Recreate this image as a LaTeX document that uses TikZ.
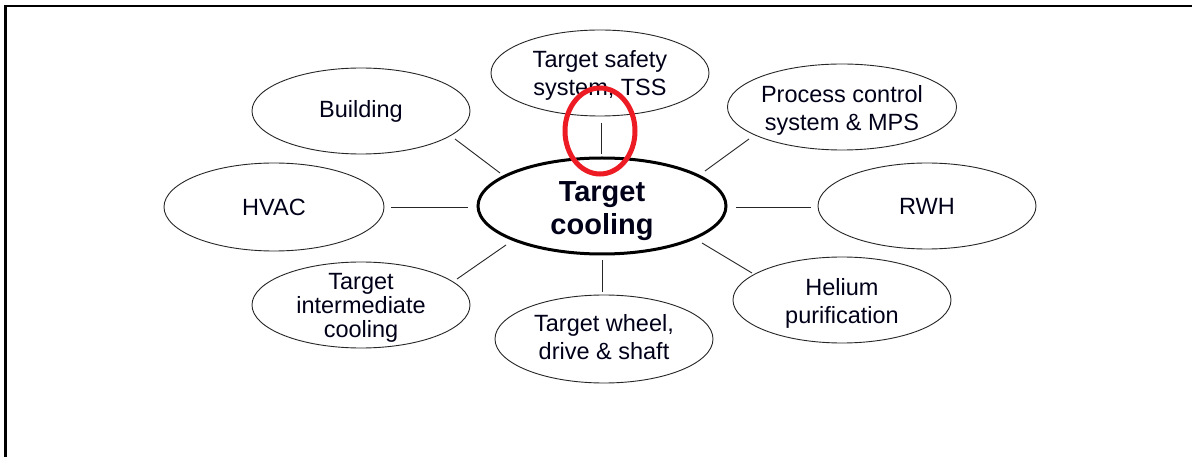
\documentclass[tikz,border=0pt]{standalone}
\usepackage{fontspec}
\setmainfont{Liberation Sans}
\usetikzlibrary{shapes.geometric}
\newcommand\dnlines[2]{\raisebox{0pt}[\dimexpr\height+#1\relax][\dimexpr\depth-#1\relax]{\begin{tabular}{@{}c@{}}#2\end{tabular}}}
\newcommand\tightlines[1]{\raisebox{0pt}[\dimexpr\height-2pt\relax][\dimexpr\depth-10pt\relax]{\begin{tabular}{@{}c@{}}#1\end{tabular}}}
\begin{document}
\begin{tikzpicture}[x=1pt,y=-1pt,
  bubble/.style={draw=black!85,line width=0.9pt,ellipse,minimum width=218pt,minimum height=86pt,inner sep=0pt,font=\fontsize{23.5}{27.5}\selectfont,text=black!90!blue},
  hub/.style={draw=black,line width=3pt,ellipse,minimum width=248pt,minimum height=96pt,inner sep=0pt,font=\fontsize{29}{33}\selectfont\bfseries,text=black!90!blue},
  link/.style={draw=black!85,line width=0.9pt}]
\useasboundingbox (0,0) rectangle (1192,457);
\fill[white] (0,0) rectangle (1192,457);
% frame
\draw[line width=2.5pt] (5.5,457) -- (5.5,5.5);
\draw[line width=1.2pt] (5,6) -- (1186,6);
\fill (1185,5.4) rectangle (1192,7.2);
% nodes
\node[hub] (tc) at (602,206) {\dnlines{5pt}{Target\\cooling}};
\node[bubble] (tss) at (600,73) {\dnlines{3pt}{Target safety\\system, TSS}};
\node[bubble] (bld) at (361,111) {\dnlines{1pt}{Building}};
\node[bubble] (pcs) at (842,107) {\dnlines{4pt}{Process control\\system \& MPS}};
\node[bubble,minimum width=220pt,minimum height=88pt] (hvac) at (274,207) {HVAC};
\node[bubble] (rwh) at (927,206) {RWH};
\node[bubble,font=\fontsize{23.5}{22.5}\selectfont] (tic) at (361,305) {\tightlines{Target\\intermediate\\cooling}};
\node[bubble] (hel) at (842,300) {\dnlines{4pt}{Helium\\purification}};
\node[bubble,minimum height=88pt] (whl) at (604,339) {\dnlines{1pt}{Target wheel,\\drive \& shaft}};
% connector end points
\coordinate (a1) at (601,123); \coordinate (a2) at (601,154);
\coordinate (b1) at (455,139); \coordinate (b2) at (500,173);
\coordinate (c1) at (749,139); \coordinate (c2) at (705,171);
\coordinate (d1) at (391,207); \coordinate (d2) at (468,207);
\coordinate (e1) at (811,207); \coordinate (e2) at (736,207);
\coordinate (f1) at (457,279); \coordinate (f2) at (506,245);
\coordinate (g1) at (752,273); \coordinate (g2) at (702,243);
\coordinate (h1) at (602,292); \coordinate (h2) at (602,260);
\draw[link] (a1) -- (a2);
\draw[link] (b1) -- (b2);
\draw[link] (c1) -- (c2);
\draw[link] (d1) -- (d2);
\draw[link] (e1) -- (e2);
\draw[link] (f1) -- (f2);
\draw[link] (g1) -- (g2);
\draw[link] (h1) -- (h2);
% red highlight
\draw[draw={rgb,255:red,237;green,28;blue,36},line width=5pt] (600,131) ellipse [x radius=35pt,y radius=43pt];
\end{tikzpicture}
\end{document}
